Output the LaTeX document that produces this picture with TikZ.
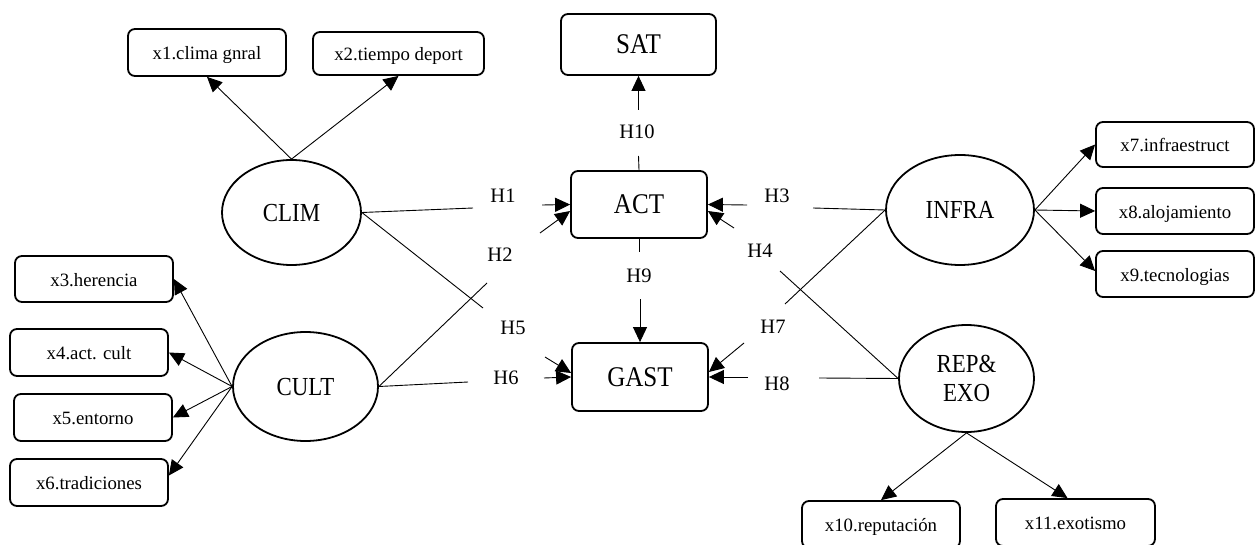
\documentclass[tikz,border=0pt]{standalone}
\usepackage{fontspec}
\setmainfont{Liberation Serif}
\newfontfamily\tallserif[FakeStretch=0.88]{Liberation Serif}
\usetikzlibrary{arrows.meta,shapes.geometric}
\begin{document}
\begin{tikzpicture}[x=1pt,y=-1pt,
  ind/.style={draw,line width=1.8pt,rounded corners=7pt,inner sep=0pt,
    text height=14.6pt,text depth=0pt,font=\fontsize{18.8}{22}\selectfont},
  cons/.style={draw,line width=1.8pt,rounded corners=7pt,inner sep=0pt,
    text height=19pt,text depth=0pt,font=\tallserif\fontsize{28.5}{30}\selectfont},
  lat/.style={draw,ellipse,line width=1.8pt,inner sep=0pt,
    font=\tallserif\fontsize{26}{28.5}\selectfont,align=center},
  hyp/.style={inner sep=0pt,font=\fontsize{20.5}{24}\selectfont},
  lnk/.style={line width=0.9pt},
  arr/.style={line width=0.9pt,-{Triangle[length=15pt,width=14pt]}}
]
\useasboundingbox (0,0) rectangle (1260,545);

% central constructs
\node[cons,minimum width=155pt,minimum height=61pt] (sat)  at (638.5,44.5) {SAT};
\node[cons,minimum width=136pt,minimum height=67pt] (act)  at (639,204.5) {ACT};
\node[cons,minimum width=136pt,minimum height=68pt] (gast) at (640,377) {GAST};

% latent factors
\node[lat,minimum width=139pt,minimum height=105pt,text height=18pt,text depth=0pt] (clim)  at (291.5,212.5) {CLIM};
\node[lat,minimum width=145pt,minimum height=109pt,text height=18pt,text depth=0pt] (cult)  at (305.5,386.5) {CULT};
\node[lat,minimum width=148pt,minimum height=110pt,text height=18pt,text depth=0pt] (infra) at (960,210) {INFRA};
\node[lat,minimum width=135pt,minimum height=107pt] (rep) at (966.5,378.5) {REP\&\\EXO};

% indicators
\node[ind,minimum width=158pt,minimum height=47pt] (x1)  at (207,52.5)    {x1.clima gnral};
\node[ind,minimum width=171pt,minimum height=43pt] (x2)  at (398.5,53.5)  {x2.tiempo deport};
\node[ind,minimum width=158pt,minimum height=46pt] (x3)  at (94,279)      {x3.herencia};
\node[ind,minimum width=158pt,minimum height=47pt] (x4)  at (89,352.5)    {x4.act. cult};
\node[ind,minimum width=158pt,minimum height=47pt] (x5)  at (93,417.5)    {x5.entorno};
\node[ind,minimum width=158pt,minimum height=47pt] (x6)  at (89,482.5)    {x6.tradiciones};
\node[ind,minimum width=158pt,minimum height=45pt] (x7)  at (1175,144.5)  {x7.infraestruct};
\node[ind,minimum width=158pt,minimum height=46pt] (x8)  at (1175,211)    {x8.alojamiento};
\node[ind,minimum width=158pt,minimum height=46pt] (x9)  at (1175,274)    {x9.tecnologias};
\node[ind,minimum width=158pt,minimum height=47pt] (x10) at (881,524.5)   {x10.reputación};
\node[ind,minimum width=159pt,minimum height=47pt] (x11) at (1075.5,522.5) {x11.exotismo};

% loadings
\draw[arr] (clim.north) -- (x1.south);
\draw[arr] (clim.north) -- (x2.south);
\draw[arr] (cult.west) -- (x3.east);
\draw[arr] (cult.west) -- (x4.east);
\draw[arr] (cult.west) -- (x5.east);
\draw[arr] (cult.west) -- ([yshift=7pt]x6.east);
\draw[arr] (infra.east) -- (x7.west);
\draw[arr] (infra.east) -- (x8.west);
\draw[arr] (infra.east) -- ([yshift=3pt]x9.west);
\draw[arr] (rep.south) -- (x10.north);
\draw[arr] (rep.south) -- ([xshift=-8pt]x11.north);

% hypothesis paths: line, label, arrow
\coordinate (h1s) at (473,208);  \coordinate (h1e) at (542,205);
\coordinate (h2s) at (487,283);  \coordinate (h2e) at (540,233);
\coordinate (h3s) at (813,208);  \coordinate (h3e) at (747,205);
\coordinate (h4s) at (780,271);  \coordinate (h4e) at (734,228);
\coordinate (h5s) at (483,308);  \coordinate (h5e) at (545,357);
\coordinate (h6s) at (468,382);  \coordinate (h6e) at (544,378);
\coordinate (h7s) at (785,304);  \coordinate (h7e) at (744,343);
\coordinate (h8s) at (819,378);  \coordinate (h8e) at (748,377);
\coordinate (h9s) at (639,252);  \coordinate (h9e) at (640,299);
\coordinate (h10s) at (638.5,156); \coordinate (h10e) at (638.5,110);

\draw[lnk] (clim.east) -- (h1s);  \node[hyp] (h1) at (503,196) {H1};  \draw[arr] (h1e) -- (act.west);
\draw[lnk] (cult.east) -- (h2s);  \node[hyp] (h2) at (500,255) {H2};  \draw[arr] (h2e) -- ([yshift=-6.5pt]act.west);
\draw[lnk] (infra.west) -- (h3s); \node[hyp] (h3) at (777,196) {H3};  \draw[arr] (h3e) -- (act.east);
\draw[lnk] (rep.west) -- (h4s);   \node[hyp] (h4) at (760,251) {H4};  \draw[arr] (h4e) -- ([yshift=-6.5pt]act.east);
\draw[lnk] (clim.east) -- (h5s);  \node[hyp] (h5) at (513,328) {H5};  \draw[arr] (h5e) -- ([yshift=4pt]gast.west);
\draw[lnk] (cult.east) -- (h6s);  \node[hyp] (h6) at (506,378) {H6};  \draw[arr] (h6e) -- (gast.west);
\draw[lnk] (infra.west) -- (h7s); \node[hyp] (h7) at (773,327) {H7};  \draw[arr] (h7e) -- ([yshift=5pt]gast.east);
\draw[lnk] (rep.west) -- (h8s);   \node[hyp] (h8) at (777,384) {H8};  \draw[arr] (h8e) -- (gast.east);
\draw[lnk] (act.south) -- (h9s);  \node[hyp] (h9) at (639,276) {H9};  \draw[arr] (h9e) -- (gast.north);
\draw[lnk] (act.north) -- (h10s); \node[hyp] (h10) at (637,132) {H10}; \draw[arr] (h10e) -- (sat.south);
\end{tikzpicture}
\end{document}
